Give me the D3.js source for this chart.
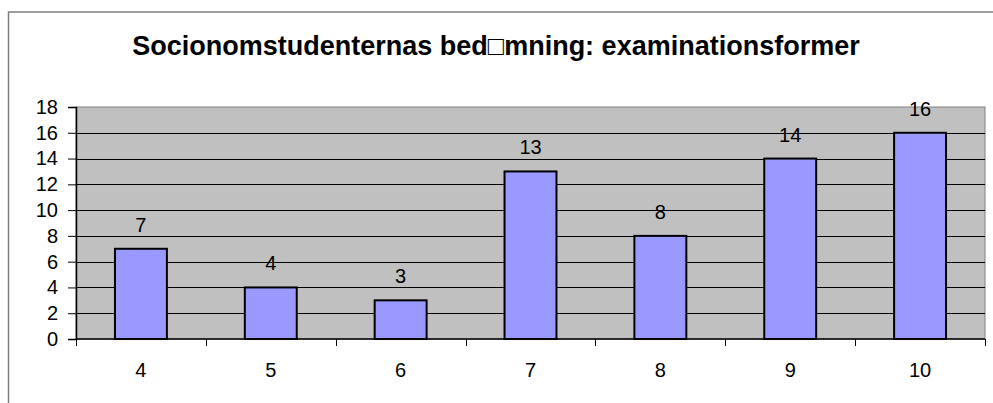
<!DOCTYPE html>
<html>
<head>
<meta charset="utf-8">
<script src="https://cdn.jsdelivr.net/npm/d3@7"></script>
<style>
  body { margin: 0; background: #fff; }
  svg text { font-family: "Liberation Sans", Arial, sans-serif; }
</style>
</head>
<body>
<svg class="chart" width="993" height="403"></svg>
<script>
const title = 'Socionomstudenternas bed\u25A1mning: examinationsformer';
const categories = ['4', '5', '6', '7', '8', '9', '10'];
const values = [7, 4, 3, 13, 8, 14, 16];
const yTicks = [0, 2, 4, 6, 8, 10, 12, 14, 16, 18];

const svg = d3.select('.chart');

// outer frame (runs off right and bottom)
svg.append('rect')
    .attr('x', 8.5).attr('y', 12)
    .attr('width', 1000).attr('height', 400)
    .attr('fill', '#fff')
    .attr('stroke', '#808080')
    .attr('stroke-width', 1.5);

svg.append('text')
    .attr('x', 496).attr('y', 55)
    .attr('text-anchor', 'middle')
    .attr('font-size', 27)
    .attr('font-weight', 'bold')
    .text(title);

const plot = { left: 76, right: 985, top: 107, bottom: 339 };

const x = d3.scaleBand()
    .domain(categories)
    .range([plot.left, plot.right])
    .paddingInner(0.6)
    .paddingOuter(0.3);

const xEdges = d3.scaleLinear()
    .domain([0, categories.length])
    .range([plot.left, plot.right]);

const y = d3.scaleLinear()
    .domain([0, 18])
    .range([plot.bottom, plot.top]);

// plot background
svg.append('rect')
    .attr('x', plot.left).attr('y', plot.top)
    .attr('width', plot.right - plot.left)
    .attr('height', plot.bottom - plot.top)
    .attr('fill', '#c0c0c0')
    .attr('stroke', '#808080')
    .attr('stroke-width', 1);

// gridlines
svg.append('g')
    .selectAll('line')
    .data(yTicks.filter(d => d > 0 && d < 18))
    .enter().append('line')
    .attr('x1', plot.left).attr('x2', plot.right)
    .attr('y1', d => Math.round(y(d)) + 0.5)
    .attr('y2', d => Math.round(y(d)) + 0.5)
    .attr('stroke', '#000')
    .attr('stroke-width', 1);

// bars
svg.append('g')
    .selectAll('rect')
    .data(values)
    .enter().append('rect')
    .attr('x', (d, i) => x(categories[i]))
    .attr('width', x.bandwidth())
    .attr('y', d => y(d))
    .attr('height', d => plot.bottom - y(d))
    .attr('fill', '#9999ff')
    .attr('stroke', '#000')
    .attr('stroke-width', 2);

// value labels
svg.append('g')
    .selectAll('text')
    .data(values)
    .enter().append('text')
    .attr('x', (d, i) => x(categories[i]) + x.bandwidth() / 2)
    .attr('y', d => y(d) - 17)
    .attr('text-anchor', 'middle')
    .attr('font-size', 20)
    .text(d => d);

// y axis
const yAxis = d3.axisLeft(y)
    .tickValues(yTicks)
    .tickSize(8)
    .tickPadding(10);

svg.append('g')
    .attr('transform', `translate(${plot.left},0)`)
    .call(yAxis)
    .call(g => g.select('.domain').attr('stroke', '#000').attr('stroke-width', 1.5))
    .call(g => g.selectAll('.tick text').attr('font-size', 20).attr('fill', '#000')
        .attr('font-family', '"Liberation Sans", Arial, sans-serif'));

// x axis line and boundary ticks
svg.append('line')
    .attr('x1', plot.left).attr('x2', plot.right)
    .attr('y1', plot.bottom).attr('y2', plot.bottom)
    .attr('stroke', '#000').attr('stroke-width', 1.5);

svg.append('g')
    .selectAll('line')
    .data(d3.range(categories.length + 1))
    .enter().append('line')
    .attr('x1', d => Math.round(xEdges(d)) + 0.5)
    .attr('x2', d => Math.round(xEdges(d)) + 0.5)
    .attr('y1', plot.bottom).attr('y2', plot.bottom + 7)
    .attr('stroke', '#000');

svg.append('g')
    .selectAll('text')
    .data(categories)
    .enter().append('text')
    .attr('x', d => x(d) + x.bandwidth() / 2)
    .attr('y', 377)
    .attr('text-anchor', 'middle')
    .attr('font-size', 20)
    .text(d => d);
</script>
</body>
</html>
